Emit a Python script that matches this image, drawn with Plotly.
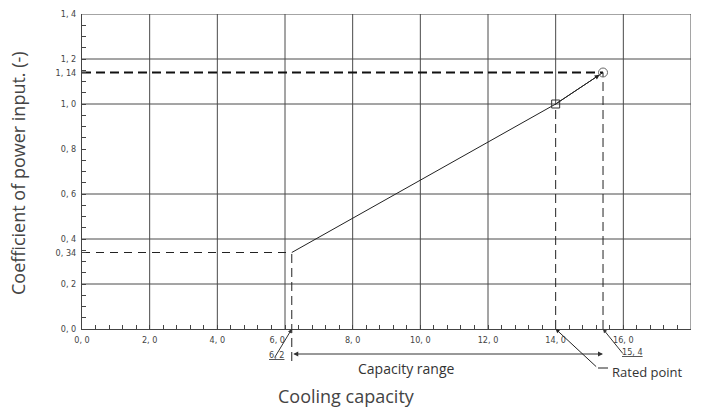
import plotly.graph_objects as go

# ---- data ----
line_x = [6.2, 14.0, 15.4]
line_y = [0.34, 1.0, 1.14]
rated_x = [14.0]
rated_y = [1.0]
max_x = [15.4]
max_y = [1.14]

x_tickvals = [0, 2, 4, 6, 8, 10, 12, 14, 16, 18]
x_ticktext = ["0, 0", "2, 0", "4, 0", "6, 0\u00a0\u00a0\u00a0\u00a0\u00a0\u00a0", "8, 0", "10, 0", "12, 0",
              "14, 0", "16, 0", "18, 0"]
y_tickvals = [0, 0.2, 0.34, 0.4, 0.6, 0.8, 1.0, 1.14, 1.2, 1.4]
y_ticktext = ["0, 0", "0, 2", "0, 34", "0, 4", "0, 6", "0, 8", "1, 0", "1, 14", "1, 2", "1, 4"]

x_grid = [2, 4, 6, 8, 10, 12, 16, 18]
y_grid = [0.2, 0.4, 0.6, 1.0, 1.2, 1.4]

range_start, range_end = 6.2, 15.4

X_MAX, Y_MAX = 18, 1.4
GRID = "#4a4a4a"
TICKFONT = dict(family="Liberation Sans Narrow, DejaVu Sans Condensed, sans-serif", size=9, color="#444444")
TITLEFONT = "Open Sans, sans-serif"
PLOT_W = 609

# pixel helpers for layout-only positions (plot area: x 82..691, y 14..329)
def px(xp):
    return (xp - 82) / 609

def py(yp):
    return (329 - yp) / 315

fig = go.Figure()

shapes = []
for gx in x_grid:
    shapes.append(dict(type="line", xref="x", yref="y", x0=gx, x1=gx, y0=0, y1=Y_MAX,
                       line=dict(color=GRID, width=1), layer="below"))
shapes.append(dict(type="line", xref="x", yref="y", x0=14, x1=14, y0=1.0, y1=Y_MAX,
                   line=dict(color=GRID, width=1), layer="below"))
for gy in y_grid:
    shapes.append(dict(type="line", xref="x", yref="y", x0=0, x1=X_MAX, y0=gy, y1=gy,
                       line=dict(color=GRID, width=1), layer="below"))

# dashed reference lines
fig.add_trace(go.Scatter(x=[0, max_x[0]], y=[max_y[0], max_y[0]], mode="lines",
                         line=dict(color="#111111", width=2, dash="9px,5px"), hoverinfo="skip"))
fig.add_trace(go.Scatter(x=[0, line_x[0]], y=[line_y[0], line_y[0]], mode="lines",
                         line=dict(color="#222222", width=1, dash="8px,6px"), hoverinfo="skip"))
fig.add_trace(go.Scatter(x=[max_x[0], max_x[0]], y=[0, max_y[0]], mode="lines",
                         line=dict(color="#222222", width=1, dash="9px,5px"), hoverinfo="skip"))
fig.add_trace(go.Scatter(x=[rated_x[0], rated_x[0]], y=[0, rated_y[0]], mode="lines",
                         line=dict(color="#222222", width=1, dash="9px,5px"), hoverinfo="skip"))
shapes.append(dict(type="line", xref="x", yref="paper", x0=line_x[0], x1=line_x[0],
                   y0=py(361), y1=line_y[0] / Y_MAX,
                   line=dict(color="#222222", width=1, dash="9px,5px")))

# main line
fig.add_trace(go.Scatter(x=line_x, y=line_y, mode="lines",
                         line=dict(color="#222222", width=1), hoverinfo="skip"))
fig.add_trace(go.Scatter(x=rated_x, y=rated_y, mode="markers",
                         marker=dict(symbol="square-open", size=8, color="#333333", line=dict(width=1)),
                         hoverinfo="skip"))
fig.add_trace(go.Scatter(x=max_x, y=max_y, mode="markers",
                         marker=dict(symbol="circle-open", size=9, color="#666666", line=dict(width=1)),
                         hoverinfo="skip"))

annotations = []
annotations.append(dict(x=max_x[0], y=max_y[0], xref="x", yref="y", ax=rated_x[0], ay=rated_y[0],
                        axref="x", ayref="y", text="", showarrow=True, arrowhead=2, arrowsize=1,
                        arrowwidth=1, arrowcolor="#222222", standoff=4))

# capacity range double arrow (length in pixels from the data span)
span_px = (range_end - range_start) / X_MAX * PLOT_W
annotations.append(dict(x=range_end, y=py(354), xref="x", yref="paper", ax=-span_px, ay=0,
                        text="", showarrow=True, arrowhead=2, arrowside="end+start",
                        arrowsize=1, arrowwidth=1, arrowcolor="#333333"))
annotations.append(dict(x=px(406), y=py(368), xref="paper", yref="paper", xanchor="center",
                        yanchor="middle", text="Capacity range", showarrow=False,
                        font=dict(family=TITLEFONT, size=14, color="#333333")))

# 6,2 leader
annotations.append(dict(x=range_start, y=0, xref="x", yref="y", ax=-18, ay=30,
                        text="", showarrow=True, arrowhead=2, arrowsize=0.8,
                        arrowwidth=1, arrowcolor="#333333"))
annotations.append(dict(x=px(276), y=py(355), xref="paper", yref="paper", xanchor="center",
                        yanchor="middle", text="<u>6, 2</u>", showarrow=False, font=TICKFONT))
# 15,4 leader
annotations.append(dict(x=range_end, y=0, xref="x", yref="y", ax=21, ay=26,
                        text="", showarrow=True, arrowhead=2, arrowsize=0.8,
                        arrowwidth=1, arrowcolor="#333333"))
annotations.append(dict(x=px(632), y=py(352), xref="paper", yref="paper", xanchor="center",
                        yanchor="middle", text="<u>15, 4</u>", showarrow=False, font=TICKFONT))
# rated point leader
annotations.append(dict(x=rated_x[0], y=0, xref="x", yref="y", ax=42, ay=39,
                        text="", showarrow=True, arrowhead=2, arrowsize=0.8,
                        arrowwidth=1, arrowcolor="#222222"))
shapes.append(dict(type="line", xref="paper", yref="paper", x0=px(598), x1=px(608),
                   y0=py(368), y1=py(368), line=dict(color="#222222", width=1)))
annotations.append(dict(x=px(610), y=py(372), xref="paper", yref="paper", xanchor="left",
                        yanchor="middle", text="Rated point", showarrow=False,
                        font=dict(family=TITLEFONT, size=13, color="#333333")))

# axis titles
annotations.append(dict(x=px(346), y=py(396), xref="paper", yref="paper", xanchor="center",
                        yanchor="middle", text="Cooling capacity", showarrow=False,
                        font=dict(family=TITLEFONT, size=18, color="#444444")))
annotations.append(dict(x=px(18), y=py(173), xref="paper", yref="paper", xanchor="center",
                        yanchor="middle", text="Coefficient of power input. (-)", showarrow=False,
                        textangle=-90, font=dict(family=TITLEFONT, size=18, color="#444444")))

fig.update_layout(
    width=701, height=410,
    margin=dict(l=82, r=10, t=14, b=81),
    paper_bgcolor="white", plot_bgcolor="white",
    showlegend=False,
    shapes=shapes,
    annotations=annotations,
    xaxis=dict(range=[0, X_MAX], tickmode="array", tickvals=x_tickvals, ticktext=x_ticktext,
               ticks="inside", ticklen=4, tickcolor="#444444", showgrid=False, zeroline=False,
               showline=True, linecolor="#444444", linewidth=1, tickfont=TICKFONT,
               ticklabelstandoff=2,
               minor=dict(dtick=0.4, tick0=0, ticks="inside", ticklen=4, tickcolor="#444444")),
    yaxis=dict(range=[0, Y_MAX], tickmode="array", tickvals=y_tickvals, ticktext=y_ticktext,
               ticks="inside", ticklen=4, tickcolor="#444444", showgrid=False, zeroline=False,
               showline=True, linecolor="#444444", linewidth=1, tickfont=TICKFONT,
               ticklabelstandoff=3,
               minor=dict(dtick=0.05, tick0=0, ticks="inside", ticklen=4, tickcolor="#444444")),
)

fig.write_html("out.html")
